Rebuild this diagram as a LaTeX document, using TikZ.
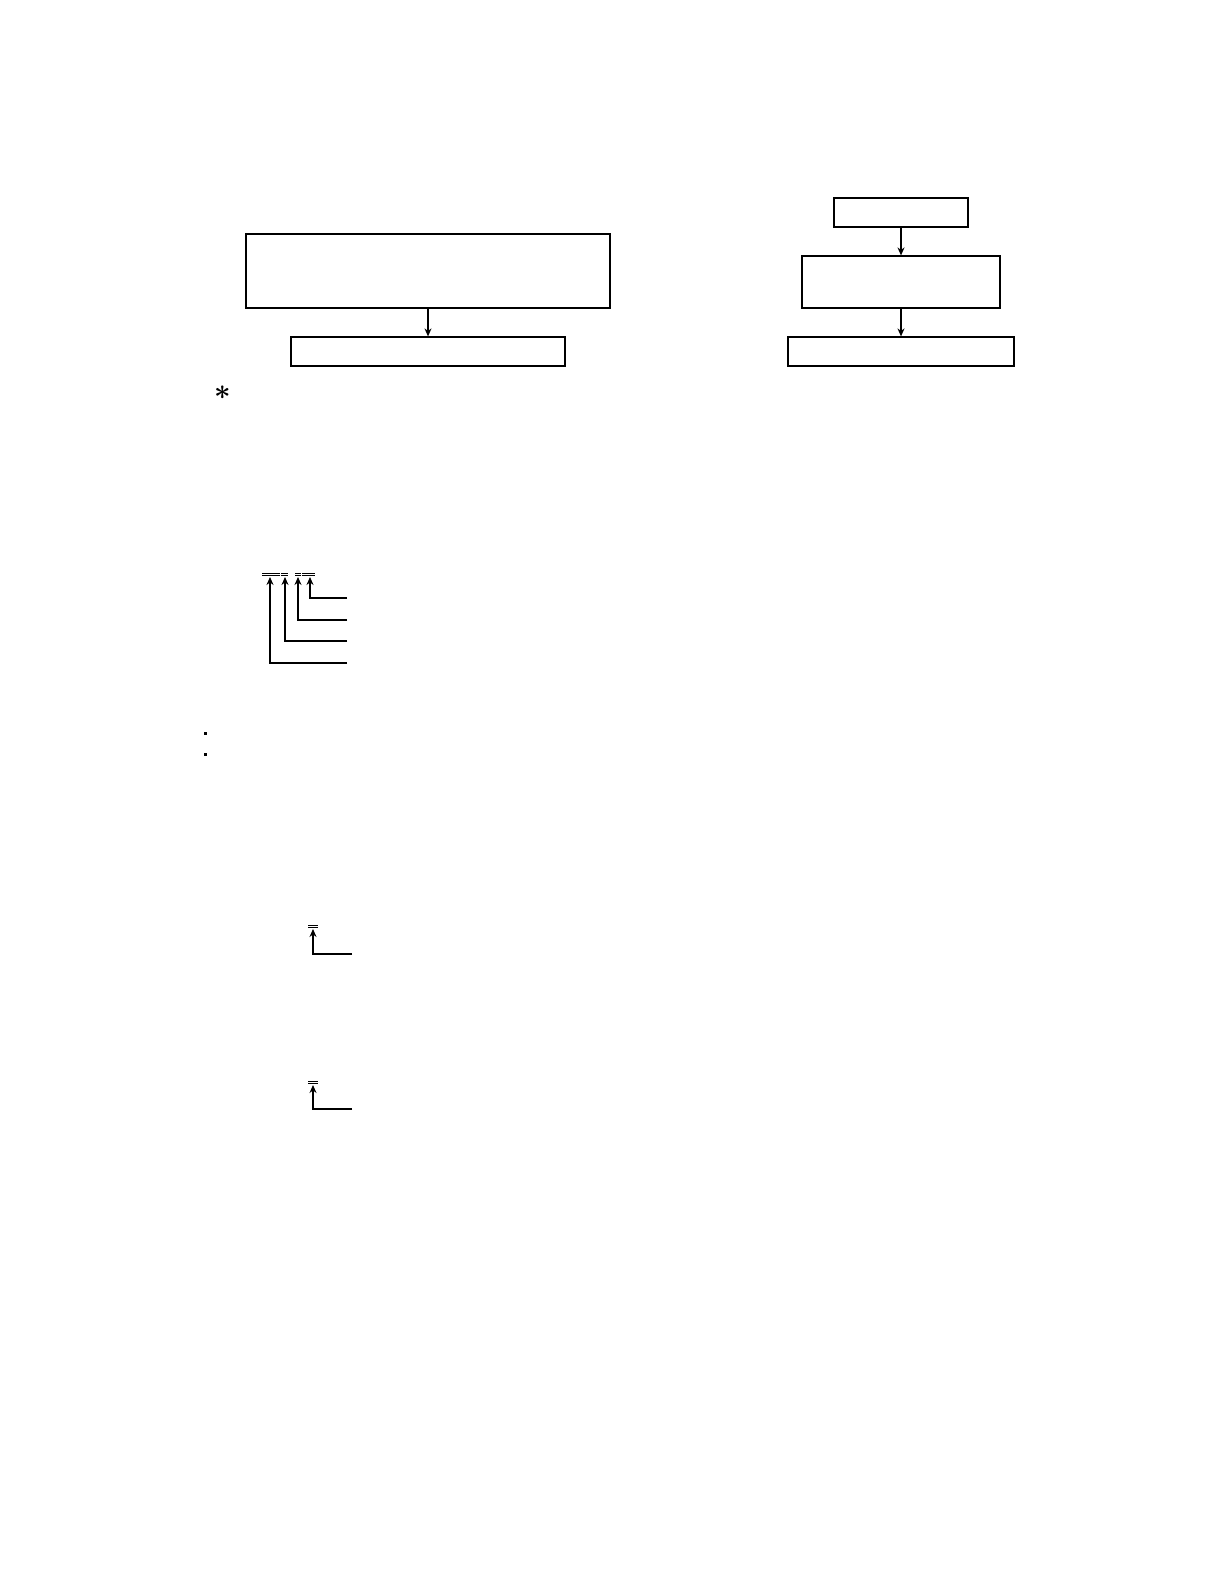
\documentclass[tikz,border=0pt]{standalone}
\usepackage{tikz}
\usetikzlibrary{arrows.meta}

\begin{document}
\begin{tikzpicture}[x=0.5pt,y=-0.5pt,line width=0.6pt,>={Stealth[length=4pt,width=3.5pt]},
  box/.style={rectangle,draw,line width=0.6pt,inner sep=0pt}]
\useasboundingbox (0,0) rectangle (1224,1584);
% left chart
\node[box,minimum width=182pt,minimum height=37pt] (lbig) at (428,271) {};
\node[box,minimum width=137pt,minimum height=14.5pt] (llow) at (428,351.5) {};
\draw[->] (lbig.south) -- (llow.north);
% right chart
\node[box,minimum width=67pt,minimum height=14.5pt] (rtop) at (901,212.5) {};
\node[box,minimum width=99pt,minimum height=26pt] (rmid) at (901,282) {};
\node[box,minimum width=113pt,minimum height=14.5pt] (rlow) at (901,351.5) {};
\draw[->] (rtop.south) -- (rmid.north);
\draw[->] (rmid.south) -- (rlow.north);
% asterisk
\node[inner sep=0pt,font=\Large\boldmath] (star) at (223,393) {$\ast$};
% overlines of the code
\foreach \a/\b in {262/280,281/288,295/301,302/315} {
  \draw[line width=0.5pt] (\a,573) -- (\b,573);
  \draw[line width=0.5pt] (\a,575.5) -- (\b,575.5);
}
% leaders to the code
\foreach \i/\x/\y in {1/310/598,2/298/620,3/285/641,4/270/663} {
  \coordinate (e\i) at (347,\y);
  \coordinate (t\i) at (\x,577);
  \draw[->] (e\i) -| (t\i);
}
% bullets
\fill (203.5,731.5) rectangle (206.5,734.5);
\fill (203.5,752.5) rectangle (206.5,755.5);
% first marked symbol
\draw[line width=0.5pt] (308,925) -- (318,925);
\draw[line width=0.5pt] (308,927.5) -- (318,927.5);
\coordinate (ea) at (352,954);
\coordinate (ta) at (313,929);
\draw[->] (ea) -| (ta);
% second marked symbol
\draw[line width=0.5pt] (308,1081) -- (318,1081);
\draw[line width=0.5pt] (308,1083.5) -- (318,1083.5);
\coordinate (eb) at (352,1109);
\coordinate (tb) at (313,1085);
\draw[->] (eb) -| (tb);
\end{tikzpicture}
\end{document}
